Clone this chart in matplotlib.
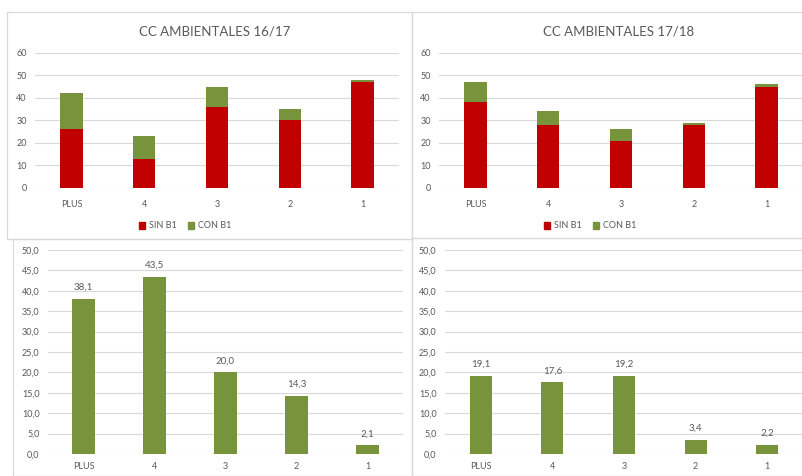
import matplotlib.pyplot as plt
from matplotlib.patches import Rectangle, Patch
from matplotlib.ticker import FuncFormatter

# Datos
categorias = ['PLUS', '4', '3', '2', '1']

sin_b1_1617 = [26, 13, 36, 30, 47]
con_b1_1617 = [16, 10, 9, 5, 1]

sin_b1_1718 = [38, 28, 21, 28, 45]
con_b1_1718 = [9, 6, 5, 1, 1]

pct_1617 = [38.1, 43.5, 20.0, 14.3, 2.1]
pct_1718 = [19.1, 17.6, 19.2, 3.4, 2.2]

titulos = ['CC AMBIENTALES 16/17', 'CC AMBIENTALES 17/18']

ROJO = '#C00000'
VERDE = '#77933C'
GRIS_TXT = '#595959'
GRIS_GRID = '#D9D9D9'

plt.rcParams['font.family'] = ['Lato', 'DejaVu Sans']

W, H = 803, 476
fig = plt.figure(figsize=(W / 100, H / 100), dpi=100)


def caja(x0, y0, x1, y1):
    # rectangulo en pixeles (origen arriba a la izquierda)
    fig.add_artist(Rectangle((x0 / W, 1 - y1 / H), (x1 - x0) / W, (y1 - y0) / H,
                             transform=fig.transFigure, fill=False,
                             edgecolor=GRIS_GRID, lw=0.9))


def ejes(x0, y0, x1, y1):
    return fig.add_axes([x0 / W, 1 - y1 / H, (x1 - x0) / W, (y1 - y0) / H])


def estilo(ax, ymax, paso):
    ax.set_xlim(-0.5, len(categorias) - 0.5)
    ax.set_ylim(0, ymax)
    ax.set_yticks(range(0, ymax + 1, paso))
    ax.grid(axis='y', color=GRIS_GRID, lw=0.8)
    ax.set_axisbelow(True)
    for s in ax.spines.values():
        s.set_visible(False)
    ax.tick_params(length=0, labelsize=6.5, colors=GRIS_TXT, pad=6)
    ax.set_xticks(range(len(categorias)))
    ax.set_xticklabels(categorias)


caja(7, 12, 412, 239)
caja(412, 12, 803, 238)
caja(13, 239, 412, 476)
caja(412, 238, 803, 476)

x = range(len(categorias))

# Graficas apiladas
for (x0, x1), sin, con, tit, lx in [((35, 399), sin_b1_1617, con_b1_1617, titulos[0], 185),
                                   ((439, 803), sin_b1_1718, con_b1_1718, titulos[1], 590)]:
    ax = ejes(x0, 53, x1, 188)
    estilo(ax, 60, 10)
    ax.bar(x, sin, width=0.31, color=ROJO)
    ax.bar(x, con, width=0.31, bottom=sin, color=VERDE)
    ax.tick_params(axis='x', pad=9)
    fig.text((x0 + x1) / 2 / W - 0.003, 1 - 31 / H, tit, ha='center', va='center',
             fontsize=9.5, color=GRIS_TXT)
    fig.legend(handles=[Patch(color=ROJO, label='SIN B1'), Patch(color=VERDE, label='CON B1')],
               loc='center', bbox_to_anchor=(lx / W, 1 - 226 / H), ncol=2, frameon=False,
               fontsize=6.5, handlelength=0.7, handleheight=0.7, handletextpad=0.4,
               columnspacing=1.2, labelcolor=GRIS_TXT)

# Graficas de porcentaje
coma = FuncFormatter(lambda v, p: f'{v:.1f}'.replace('.', ','))
for (x0, x1), vals in [((48, 403), pct_1617), ((445, 803), pct_1718)]:
    ax = ejes(x0, 250, x1, 454)
    estilo(ax, 50, 5)
    ax.yaxis.set_major_formatter(coma)
    ax.bar(x, vals, width=0.31, color=VERDE)
    for xi, v in zip(x, vals):
        ax.annotate(f'{v:.1f}'.replace('.', ','), (xi, v), xytext=(0, 5),
                    textcoords='offset points', ha='center', va='bottom',
                    fontsize=7, color=GRIS_TXT)

fig.savefig('out.png', dpi=100)
